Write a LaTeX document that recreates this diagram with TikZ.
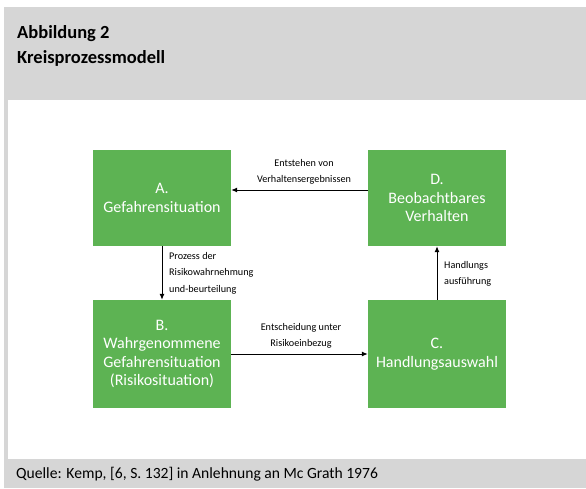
\documentclass[tikz,border=0pt]{standalone}
\usepackage{fontspec}
\setmainfont{Carlito}
\usetikzlibrary{arrows.meta}

\definecolor{boxgreen}{RGB}{93,179,83}
\definecolor{framegray}{RGB}{214,214,214}

\tikzstyle{stage} = [fill=boxgreen,text=white,align=center,inner sep=0pt,font=\fontsize{16}{18.5}\selectfont]
\tikzstyle{flow} = [line width=1pt,-{Latex[length=6pt,width=5pt]}]
\tikzstyle{note} = [font=\fontsize{10.2}{16.5}\selectfont,inner sep=0pt]

\begin{document}
\begin{tikzpicture}[x=1pt,y=-1pt]
	\useasboundingbox (0,0) rectangle (586,488);
	\fill[framegray] (4,7) rectangle (586,488);
	\fill[white] (8,100) rectangle (586,459);
	
	\node[anchor=west,align=left,inner sep=0pt,font=\fontsize{18.5}{25}\selectfont\bfseries] (title) at (17,46) {Abbildung 2\\Kreisprozessmodell};
	\node[anchor=west,inner sep=0pt,font=\fontsize{15.6}{18}\selectfont] (source) at (16,474) {Quelle: Kemp, [6, S. 132] in Anlehnung an Mc Grath 1976};
	
	\node[stage,minimum width=138pt,minimum height=96pt] (a) at (162,198) {A.\\Gefahrensituation};
	\node[stage,minimum width=138pt,minimum height=108pt] (b) at (162,354) {B.\\Wahrgenommene\\Gefahrensituation\\(Risikosituation)};
	\node[stage,minimum width=138pt,minimum height=108pt] (c) at (437,354) {C.\\Handlungsauswahl};
	\node[stage,minimum width=138pt,minimum height=96pt] (d) at (437,198) {D.\\Beobachtbares\\Verhalten};
	
	\draw[flow] ([yshift=8pt]d.west) -- ([yshift=8pt]a.east);
	\draw[flow] (a.south) -- (b.north);
	\draw[flow] (b.east) -- (c.west);
	\draw[flow] (c.north) -- (d.south);
	
	\node[note,align=center] (da) at (304,172) {Entstehen von\\Verhaltensergebnissen};
	\node[note,align=left,anchor=west] (ab) at (169,273) {Prozess der\\Risikowahrnehmung\\und-beurteilung};
	\node[note,align=center] (bc) at (301,336) {Entscheidung unter\\Risikoeinbezug};
	\node[note,align=left,anchor=west] (cd) at (444,274) {Handlungs\\ausführung};
\end{tikzpicture}
\end{document}
